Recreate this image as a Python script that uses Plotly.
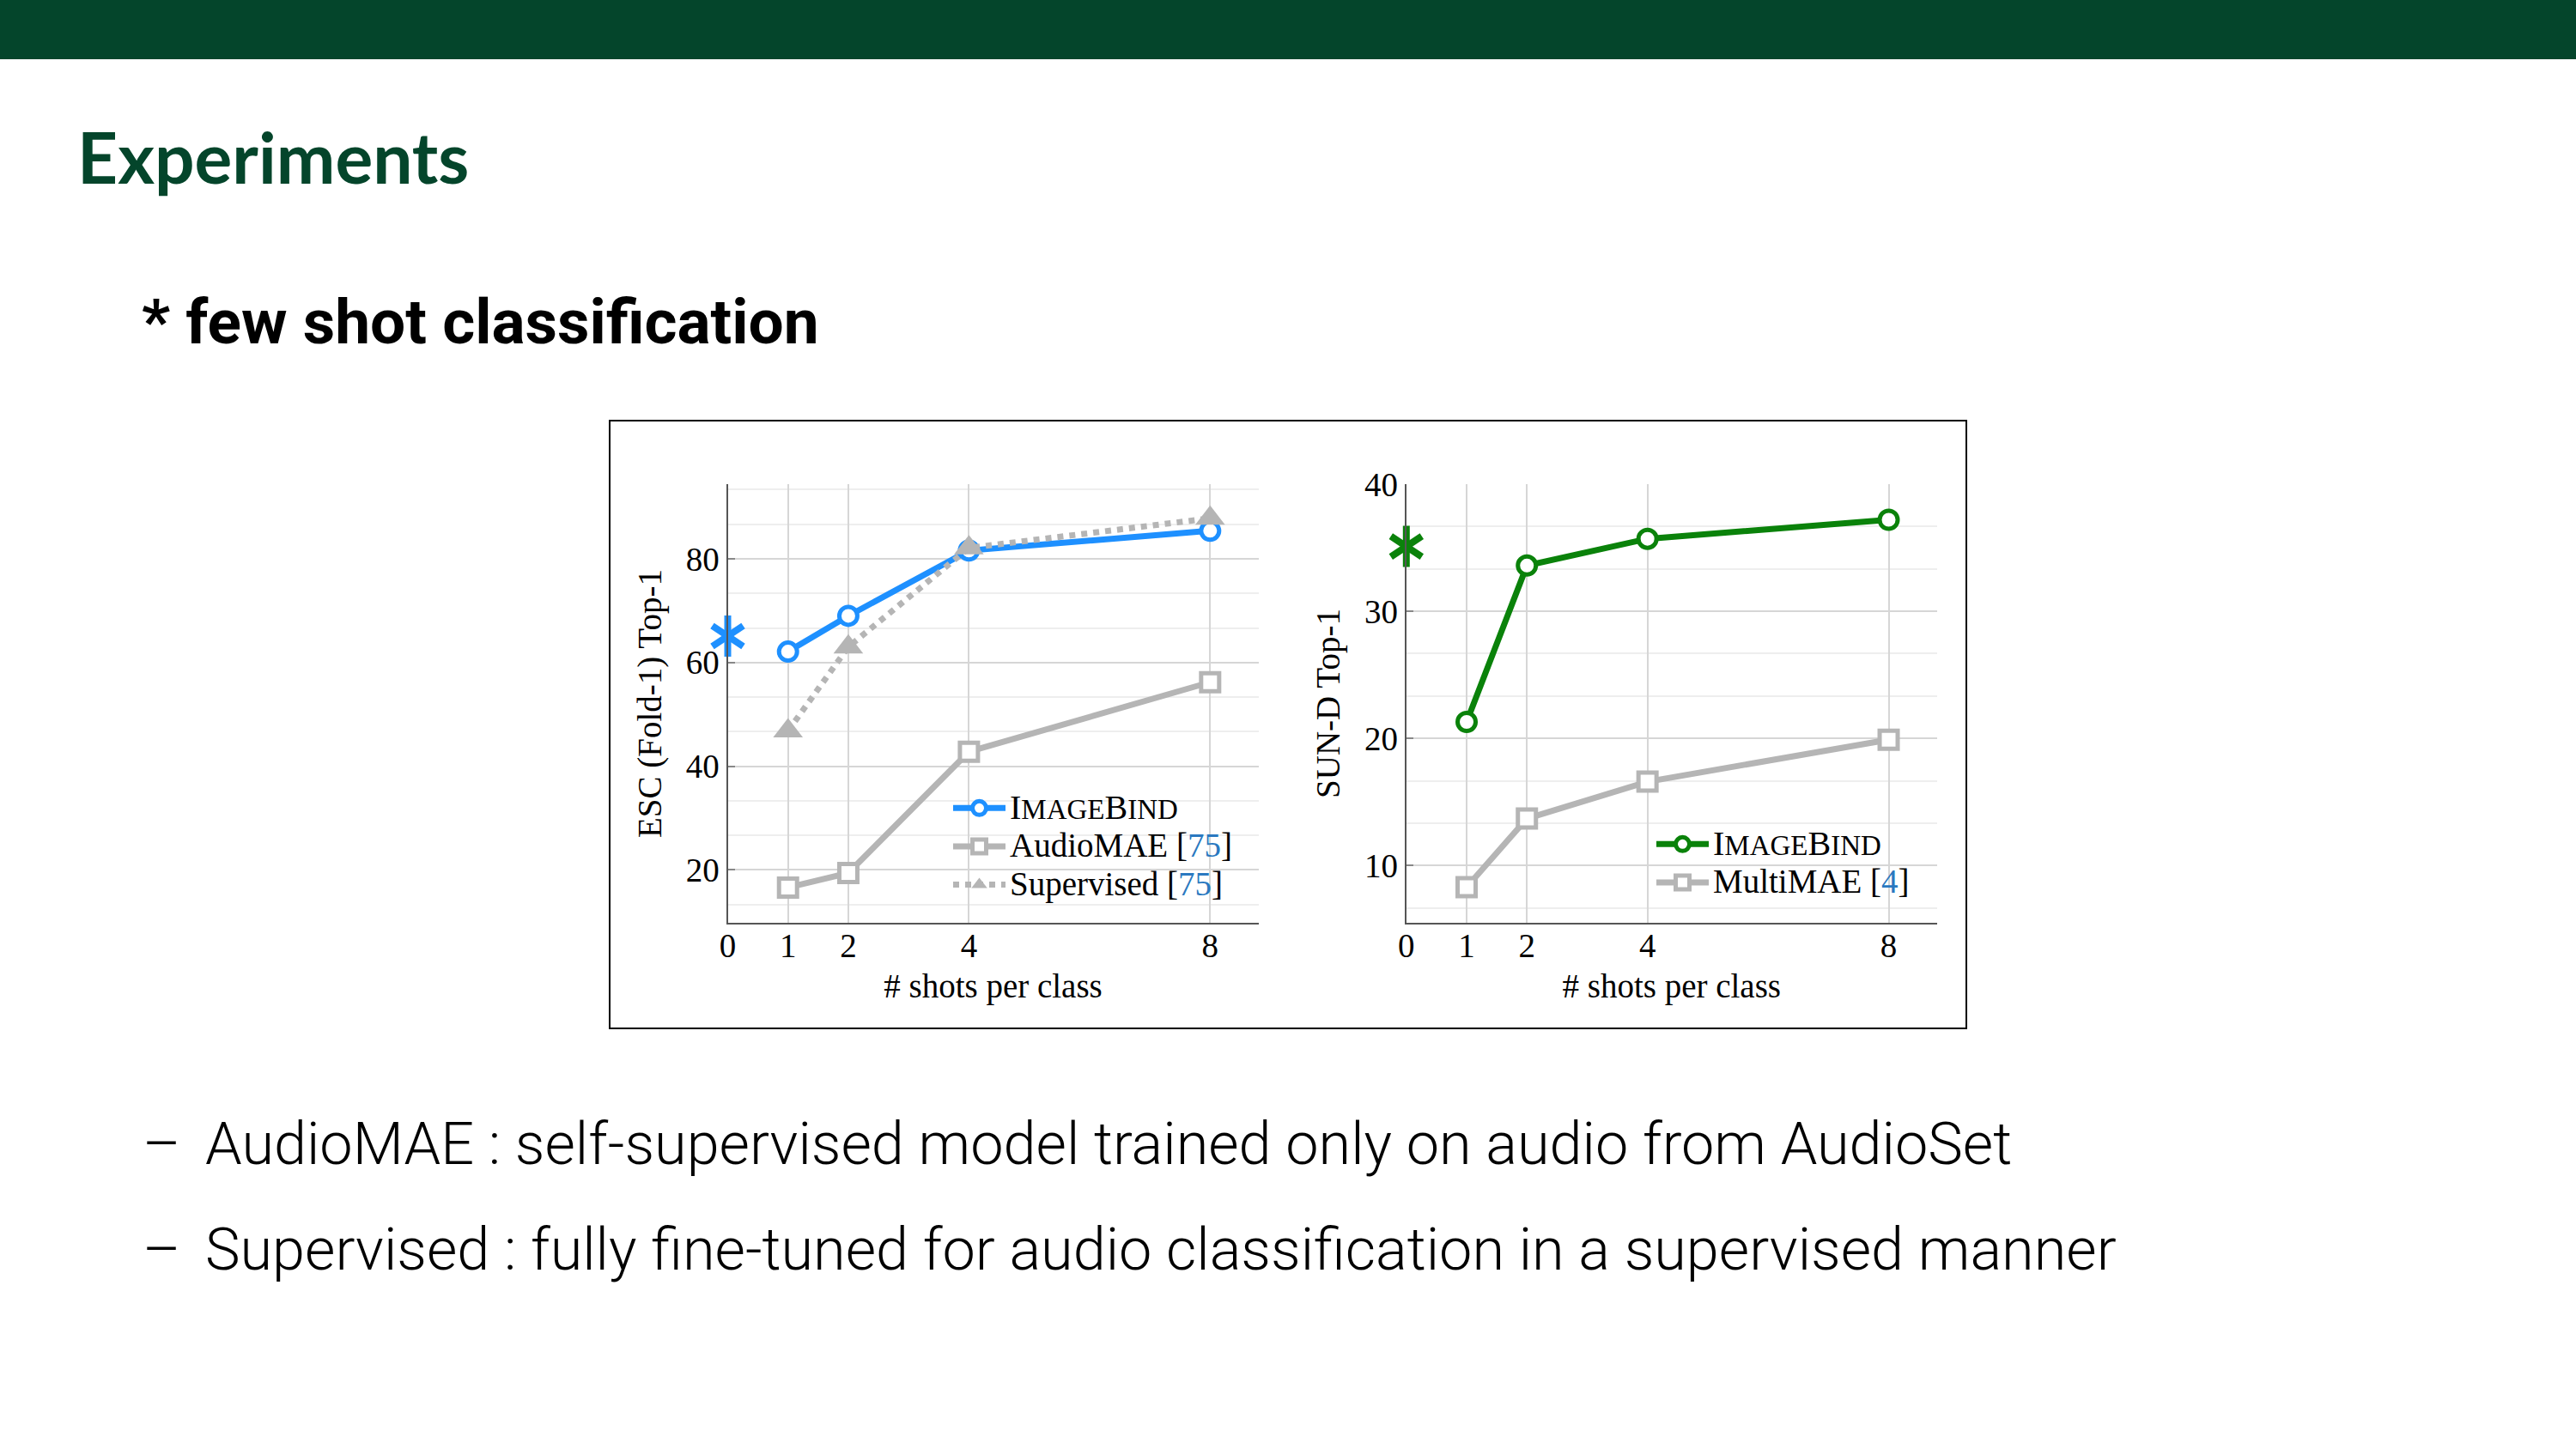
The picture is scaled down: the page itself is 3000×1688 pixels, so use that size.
import plotly.graph_objects as go

# ---------------- data ----------------
shots = [1, 2, 4, 8]
zero_shot_x = [0]
x_ticks = [0, 1, 2, 4, 8]

esc_imagebind = [62.1, 69.0, 81.6, 85.4]
esc_audiomae = [16.6, 19.4, 42.8, 56.2]
esc_supervised = [46.8, 63.0, 82.1, 87.8]
esc_zero_shot = [65.1]

sund_imagebind = [21.3, 33.6, 35.7, 37.2]
sund_multimae = [8.3, 13.7, 16.6, 19.9]
sund_zero_shot = [35.1]

# ---------------- helpers / styles ----------------
W, H = 3000, 1688


def px(x):
    return x / W


def py(y):
    return 1 - y / H


BLUE = "#1e90ff"
GREEN = "#0a820a"
GRAY = "#b5b5b5"
CITE = "#2a78c0"
SERIF = "Liberation Serif"
FS = 39
LEG_FS = 32   # controls legend row spacing
SC = 33       # small-caps size


def big(s):
    return "<span style='font-size:%dpx'>%s</span>" % (FS, s)


imagebind_name = ("<span style='font-size:%dpx'>I<span style='font-size:%dpx'>MAGE</span>B"
                  "<span style='font-size:%dpx'>IND</span></span>" % (FS + 1, SC, SC))
cite75 = "<span style='color:%s'>75</span>" % CITE
cite4 = "<span style='color:%s'>4</span>" % CITE

LW = 7
fig = go.Figure()


def add_star(y, color, xa, ya):
    # six-armed asterisk built from two opposite "Y" markers
    for sym in ("y-up-open", "y-down-open"):
        fig.add_trace(go.Scatter(
            x=zero_shot_x, y=y, mode="markers",
            marker=dict(symbol=sym, size=30, color=color, line=dict(color=color, width=8)),
            showlegend=False, xaxis=xa, yaxis=ya, cliponaxis=False, hoverinfo="skip"))


# ---------------- left chart: ESC ----------------
fig.add_trace(go.Scatter(
    x=shots, y=esc_imagebind, name=imagebind_name, mode="lines+markers",
    line=dict(color=BLUE, width=LW),
    marker=dict(symbol="circle", size=21, color="white", line=dict(color=BLUE, width=5)),
    xaxis="x", yaxis="y", legend="legend"))
fig.add_trace(go.Scatter(
    x=shots, y=esc_audiomae, name=big("AudioMAE [%s]" % cite75),
    mode="lines+markers", line=dict(color=GRAY, width=LW),
    marker=dict(symbol="square", size=21, color="white", line=dict(color=GRAY, width=5)),
    xaxis="x", yaxis="y", legend="legend"))
fig.add_trace(go.Scatter(
    x=shots, y=esc_supervised, name=big("Supervised [%s]" % cite75),
    mode="lines+markers", line=dict(color=GRAY, width=LW, dash="dot"),
    marker=dict(symbol="triangle-up", size=30, color=GRAY, line=dict(width=0)),
    xaxis="x", yaxis="y", legend="legend"))
add_star(esc_zero_shot, BLUE, "x", "y")

# ---------------- right chart: SUN-D ----------------
fig.add_trace(go.Scatter(
    x=shots, y=sund_imagebind, name=imagebind_name, mode="lines+markers",
    line=dict(color=GREEN, width=LW),
    marker=dict(symbol="circle", size=21, color="white", line=dict(color=GREEN, width=5)),
    xaxis="x2", yaxis="y2", legend="legend2"))
fig.add_trace(go.Scatter(
    x=shots, y=sund_multimae, name=big("MultiMAE [%s]" % cite4),
    mode="lines+markers", line=dict(color=GRAY, width=LW),
    marker=dict(symbol="square", size=21, color="white", line=dict(color=GRAY, width=5)),
    xaxis="x2", yaxis="y2", legend="legend2"))
add_star(sund_zero_shot, GREEN, "x2", "y2")

# ---------------- axes ----------------
tickfont = dict(family=SERIF, size=FS, color="black")
common_x = dict(range=[0, 8.8], tickmode="array", tickvals=x_ticks,
                showgrid=True, gridcolor="#d6d6d6", gridwidth=2,
                showline=True, linecolor="#555555", linewidth=2, zeroline=False,
                ticks="", tickfont=tickfont, automargin=False, ticklabelstandoff=-9,
                title=dict(text="# shots per class", font=dict(family=SERIF, size=FS, color="black"),
                           standoff=13))
common_y = dict(showgrid=True, gridcolor="#d6d6d6", gridwidth=2,
                showline=True, linecolor="#555555", linewidth=2, zeroline=False,
                ticks="inside", ticklen=8, tickcolor="#888888", tickwidth=2,
                tickfont=tickfont, automargin=False)

fig.update_layout(
    xaxis=dict(domain=[px(847.5), px(1465.5)], anchor="y", **common_x),
    yaxis=dict(domain=[py(1075), py(564)], anchor="x", range=[9.8, 94.4],
               tick0=0, dtick=20,
               minor=dict(tick0=0, dtick=20 / 3, showgrid=True, gridcolor="#eeeeee", gridwidth=2),
               title=dict(text="ESC (Fold-1) Top-1", font=dict(family=SERIF, size=FS, color="black"),
                          standoff=16),
               **common_y),
    xaxis2=dict(domain=[px(1637.8), px(2255.7)], anchor="y2", **common_x),
    yaxis2=dict(domain=[py(1075), py(564)], anchor="x2", range=[5.5, 40],
                tick0=0, dtick=10,
                minor=dict(tick0=0, dtick=10 / 3, showgrid=True, gridcolor="#eeeeee", gridwidth=2),
                title=dict(text="SUN-D Top-1", font=dict(family=SERIF, size=FS, color="black"),
                           standoff=16),
                **common_y),
)

legend_common = dict(xanchor="left", yanchor="top", bgcolor="rgba(0,0,0,0)",
                     font=dict(family=SERIF, size=LEG_FS, color="black"),
                     itemwidth=61, tracegroupgap=0, borderwidth=0)
fig.update_layout(
    legend=dict(x=px(1105), y=py(914), **legend_common),
    legend2=dict(x=px(1924), y=py(956), **legend_common),
)

# ---------------- slide decoration ----------------
shapes = [
    dict(type="rect", xref="paper", yref="paper", x0=0, x1=1, y0=py(69), y1=1,
         fillcolor="#04452b", line=dict(width=0), layer="below"),
    dict(type="rect", xref="paper", yref="paper", x0=px(710), x1=px(2290),
         y0=py(1198), y1=py(490), fillcolor="rgba(0,0,0,0)",
         line=dict(color="black", width=2)),
]

BODY = dict(family="Roboto", size=68.4, color="black", weight=300)
annotations = [
    dict(text="Experiments", x=px(88), y=py(182), xref="paper", yref="paper",
         xanchor="left", yanchor="middle", showarrow=False,
         font=dict(family="Lato", size=82, color="#04452b", weight="bold")),
    dict(text="* few shot classification", x=px(163), y=py(375), xref="paper", yref="paper",
         xanchor="left", yanchor="middle", showarrow=False,
         font=dict(family="Roboto", size=73, color="black", weight="bold")),
    dict(text="\u2013", x=px(164), y=py(1333), xref="paper", yref="paper",
         xanchor="left", yanchor="middle", showarrow=False, font=BODY),
    dict(text="AudioMAE : self-supervised model trained only on audio from AudioSet",
         x=px(237), y=py(1333), xref="paper", yref="paper",
         xanchor="left", yanchor="middle", showarrow=False, font=BODY),
    dict(text="\u2013", x=px(164), y=py(1456), xref="paper", yref="paper",
         xanchor="left", yanchor="middle", showarrow=False, font=BODY),
    dict(text="Supervised : fully fine-tuned for audio classification in a supervised manner",
         x=px(237), y=py(1456), xref="paper", yref="paper",
         xanchor="left", yanchor="middle", showarrow=False, font=BODY),
]

fig.update_layout(
    width=W, height=H, margin=dict(l=0, r=0, t=0, b=0, pad=0, autoexpand=False),
    paper_bgcolor="white", plot_bgcolor="white",
    shapes=shapes, annotations=annotations,
    font=dict(family=SERIF, color="black"),
)

fig.write_html("out.html", config={"displayModeBar": False},
               post_script="document.body.style.margin='0';document.body.style.overflow='hidden';")
